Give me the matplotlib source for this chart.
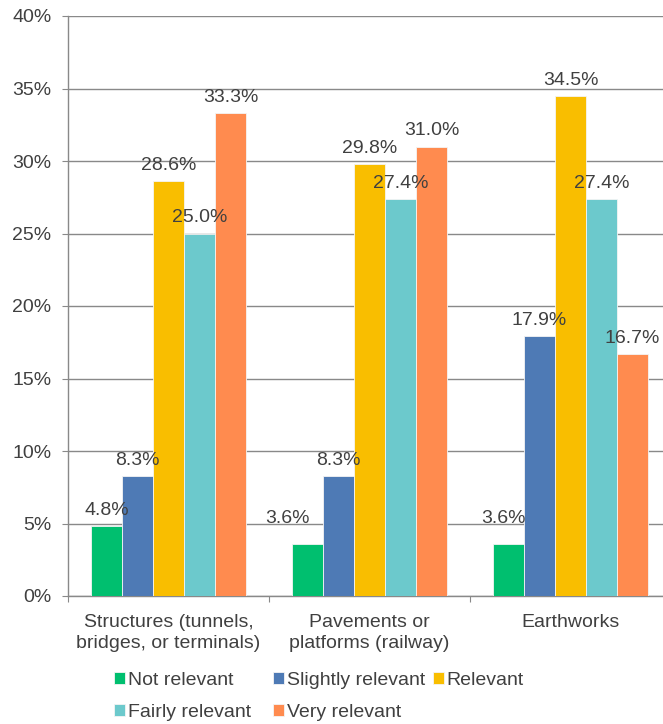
import numpy as np
import matplotlib
import matplotlib.pyplot as plt

matplotlib.rcParams['font.family'] = ['Liberation Sans', 'DejaVu Sans']

categories = ["Structures (tunnels,\nbridges, or terminals)",
              "Pavements or\nplatforms (railway)",
              "Earthworks"]
series = ["Not relevant", "Slightly relevant", "Relevant",
          "Fairly relevant", "Very relevant"]
not_relevant = [4.8, 3.6, 3.6]
slightly_relevant = [8.3, 8.3, 17.9]
relevant = [28.6, 29.8, 34.5]
fairly_relevant = [25.0, 27.4, 27.4]
very_relevant = [33.3, 31.0, 16.7]
yticks = [0, 5, 10, 15, 20, 25, 30, 35, 40]

colors = ["#00BF6F", "#4E7AB5", "#F9BE00", "#6CC9CC", "#FF8B4F"]
text_color = "#404040"
grid_color = "#898989"

# a few labels were dragged by hand in the original (offsets in px)
label_nudge = {(0, 1): (-20, 10), (0, 2): (-5, 10)}

fig = plt.figure(figsize=(6.63, 7.24), dpi=100)
W, H = 663, 724
ax = fig.add_axes([68 / W, (H - 596) / H, 603 / W, 580 / H])

x = np.arange(len(categories))
bw = 0.154
values = [not_relevant, slightly_relevant, relevant, fairly_relevant, very_relevant]
handles = []
for i, (name, vals, c) in enumerate(zip(series, values, colors)):
    pos = x + (i - 2) * bw
    b = ax.bar(pos, vals, bw, color=c, edgecolor="#F4F4F4", linewidth=0.6,
               label=name, zorder=3)
    handles.append(b)
    for j, (px, v) in enumerate(zip(pos, vals)):
        dx, dy = label_nudge.get((i, j), (0, 0))
        ax.annotate(f"{v:.1f}%", (px, v), xytext=(dx * 0.72, 8 + dy * 0.72),
                    textcoords="offset points", ha="center", va="baseline",
                    fontsize=14, color=text_color, zorder=4)

ax.set_xlim(-0.5, 2.5)
ax.set_ylim(0, 40)
ax.set_yticks(yticks, [f"{t}%" for t in yticks])
ax.set_xticks([-0.5, 0.5, 1.5, 2.5])
ax.set_xticklabels([])
ax.set_xticks(x, categories, minor=True)
for lbl in ax.get_xticklabels(minor=True):
    lbl.set_linespacing(1.3)
ax.tick_params(axis="x", which="minor", length=0, pad=13, labelsize=14,
               labelcolor=text_color)
ax.tick_params(axis="x", which="major", length=4, color=grid_color)
ax.tick_params(axis="y", length=4, color=grid_color, labelsize=14,
               labelcolor=text_color, pad=8)
ax.yaxis.grid(True, color=grid_color, linewidth=1, zorder=0)
ax.set_axisbelow(True)
for s in ["top", "right"]:
    ax.spines[s].set_visible(False)
for s in ["left", "bottom"]:
    ax.spines[s].set_color(grid_color)
    ax.spines[s].set_linewidth(1)

# Excel-style legend: three columns at their own positions
legend_cols = [([0, 3], 114), ([1, 4], 273), ([2], 433)]
for idx, left in legend_cols:
    leg = fig.legend([handles[i] for i in idx], [series[i] for i in idx],
                     loc="upper left", bbox_to_anchor=(left / W, 1 - 672 / H),
                     frameon=False, fontsize=14, handlelength=0.55,
                     handleheight=0.55, handletextpad=0.15, labelspacing=0.75,
                     borderpad=0, borderaxespad=0, labelcolor=text_color)

fig.savefig("out.png", dpi=100)
